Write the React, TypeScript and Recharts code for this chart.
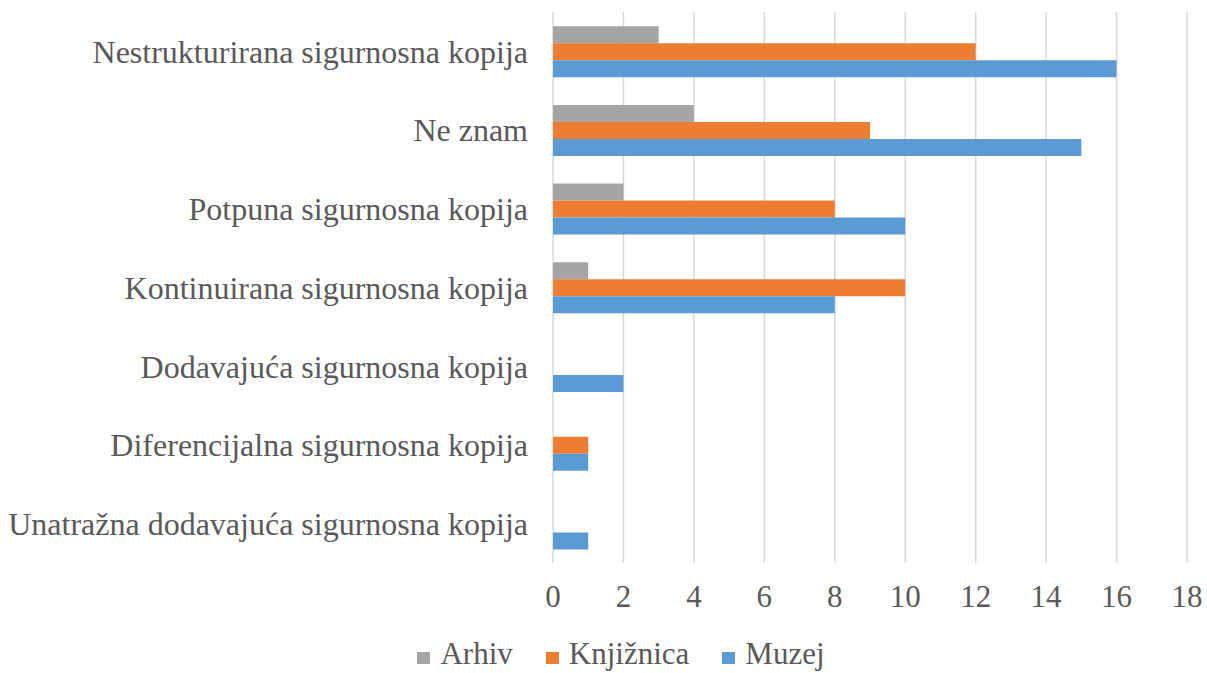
import React from 'react';
import { BarChart, Bar, XAxis, YAxis, CartesianGrid, Legend } from 'recharts';

const categories = [
  'Nestrukturirana sigurnosna kopija',
  'Ne znam',
  'Potpuna sigurnosna kopija',
  'Kontinuirana sigurnosna kopija',
  'Dodavajuća sigurnosna kopija',
  'Diferencijalna sigurnosna kopija',
  'Unatražna dodavajuća sigurnosna kopija',
];
const arhiv = [3, 4, 2, 1, 0, 0, 0];
const knjiznica = [12, 9, 8, 10, 0, 1, 0];
const muzej = [16, 15, 10, 8, 2, 1, 1];
const xTicks = [0, 2, 4, 6, 8, 10, 12, 14, 16, 18];

const data = categories.map((name, i) => ({
  name,
  Arhiv: arhiv[i],
  'Knjižnica': knjiznica[i],
  Muzej: muzej[i],
}));

const font = 'Liberation Serif';
const textColor = '#595959';

// legend like excel: small square sitting on the text baseline
const renderLegend = (props: any) => {
  const { payload } = props;
  return (
    <div
      style={{
        display: 'flex',
        justifyContent: 'center',
        alignItems: 'baseline',
        fontFamily: font,
        fontSize: 31,
        lineHeight: '34px',
        color: textColor,
        paddingLeft: 55,
      }}
    >
      {payload.map((entry: any, i: number) => (
        <span
          key={`legend-${i}`}
          style={{ display: 'inline-flex', alignItems: 'baseline', marginLeft: i === 0 ? 0 : 33 }}
        >
          <span
            style={{
              display: 'inline-block',
              width: 13,
              height: 12,
              background: entry.color,
              marginRight: 10,
            }}
          />
          {entry.value}
        </span>
      ))}
    </div>
  );
};

export default function App() {
  return (
    <div style={{ position: 'absolute', left: 0, top: 0, background: '#fff', fontFamily: font }}>
      <BarChart
        width={1207}
        height={673}
        data={data}
        layout="vertical"
        margin={{ top: 12, right: 20, bottom: 2, left: 0 }}
        barCategoryGap="18%"
        barGap={0}
      >
        <CartesianGrid horizontal={false} stroke="#D9D9D9" strokeWidth={1.5} />
        <XAxis
          type="number"
          domain={[0, 18]}
          ticks={xTicks}
          axisLine={false}
          tickLine={false}
          tickSize={0}
          tickMargin={22}
          height={74}
          tick={{ fill: textColor, fontSize: 31, fontFamily: font }}
        />
        <YAxis
          type="category"
          dataKey="name"
          width={553}
          axisLine={false}
          tickLine={false}
          tickSize={0}
          tickMargin={25}
          interval={0}
          tick={{ fill: textColor, fontSize: 32, fontFamily: font }}
        />
        <Legend verticalAlign="bottom" content={renderLegend} />
        <Bar dataKey="Arhiv" fill="#A5A5A5" isAnimationActive={false} />
        <Bar dataKey="Knjižnica" fill="#ED7D31" isAnimationActive={false} />
        <Bar dataKey="Muzej" fill="#5B9BD5" isAnimationActive={false} />
      </BarChart>
    </div>
  );
}
